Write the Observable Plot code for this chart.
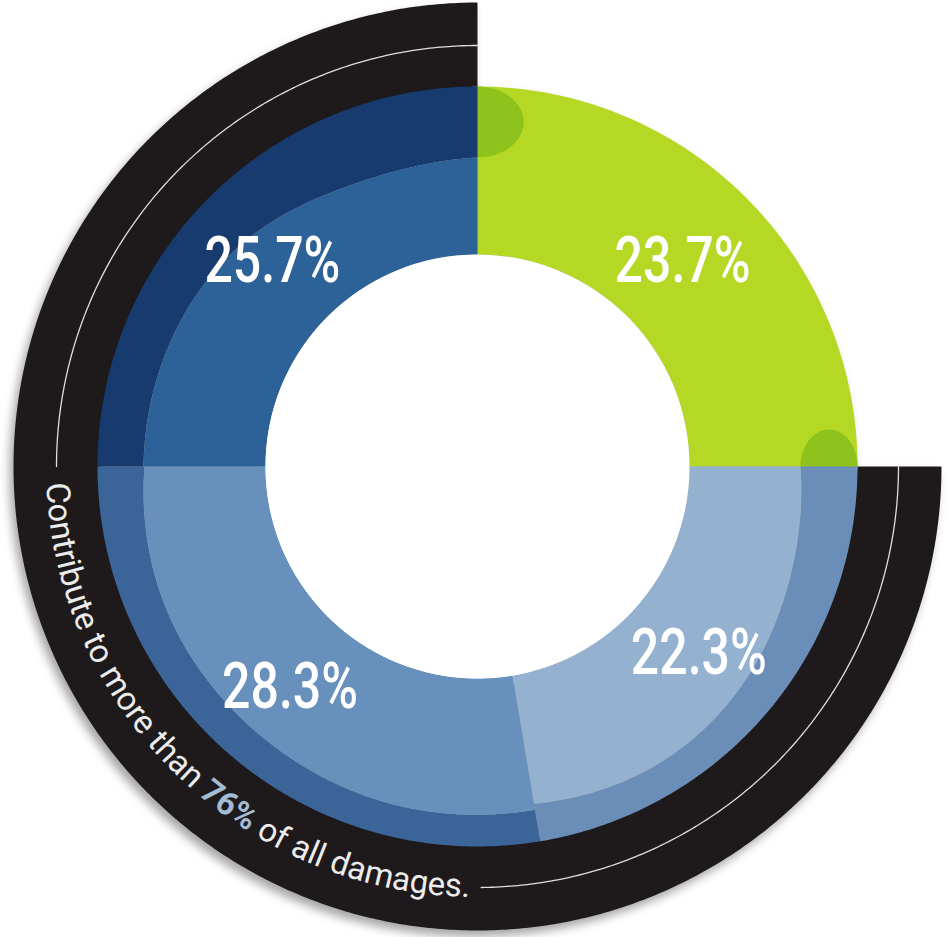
<!DOCTYPE html>
<html>
<head>
<meta charset="utf-8">
<script src="https://cdn.jsdelivr.net/npm/d3@7"></script>
<script src="https://cdn.jsdelivr.net/npm/@observablehq/plot@0.6"></script>
<style>
  html, body { margin: 0; padding: 0; background: #ffffff; }
  #chart { width: 949px; height: 937px; }
</style>
</head>
<body>
<div id="chart"></div>
<script>
// ---- data ----
const shareValues = [23.7, 22.3, 28.3, 25.7];           // clockwise from 12 o'clock
const shareLabels = shareValues.map(v => v.toFixed(1) + "%");
const sweepDeg    = [90, 80.5, 99.5, 90];                 // angular extent of each segment
const inBlackRing = [false, true, true, true];            // segments grouped by the black arc (76%)
const noteParts   = ["Contribute to more than ", "76%", " of all damages."];

// ---- styles ----
const innerFill = ["#b4d824", "#94b1d0", "#6890bd", "#2d6298"];
const bandFill  = ["#b4d824", "#6a8eb8", "#3b6599", "#173b6f"];
const blobFill  = "#8dc31c";
const ringFill  = "#1e1a1b";
// inner edge of the darker outer band, along each segment (start -> end)
const bevel = [null, [323, 331, 345, 350, 342], [348, 349, 345, 344, 333], [334, 332, 326, 303, 309]];

const R0 = 212, R1 = 380, RB0 = 377, RB1 = 464, RLINE = 421, RTEXT = 431;
const deg = Math.PI / 180;
const polar = (a, r) => ({x: r * Math.sin(a * deg), y: -r * Math.cos(a * deg)});

const starts = [], ends = [];
sweepDeg.reduce((acc, s, i) => { starts[i] = acc; ends[i] = acc + s; return acc + s; }, 0);

function arcPts(a0, a1, rf, step = 0.5) {
  const n = Math.max(2, Math.ceil(Math.abs(a1 - a0) / step));
  const pts = [];
  for (let i = 0; i <= n; i++) { const t = i / n; pts.push(polar(a0 + (a1 - a0) * t, rf(t))); }
  return pts;
}
function sector(key, fill, a0, a1, rin, rout) {
  const outer = arcPts(a0, a1, rout);
  const inner = arcPts(a1, a0, t => rin(1 - t));
  return [...outer, ...inner].map(p => ({key, fill, x: p.x, y: p.y}));
}
function blob(key, fill, a, rc, rr, rt) {
  const u = [Math.sin(a * deg), -Math.cos(a * deg)];
  const v = [Math.cos(a * deg), Math.sin(a * deg)];
  const pts = [];
  for (let k = 0; k < 120; k++) {
    const p = k / 120 * 2 * Math.PI;
    pts.push({key, fill,
      x: rc * u[0] + rr * Math.cos(p) * u[0] + rt * Math.sin(p) * v[0],
      y: rc * u[1] + rr * Math.cos(p) * u[1] + rt * Math.sin(p) * v[1]});
  }
  return pts;
}

const shapes = [];
const ringStart = starts[inBlackRing.indexOf(true)];
const ringEnd = ends[inBlackRing.lastIndexOf(true)];
shapes.push(...sector("ring", ringFill, ringStart, ringEnd, () => RB0, () => RB1));
shapes.push(...sector("s0", innerFill[0], starts[0], ends[0], () => R0, () => R1));
{
  const bEnd = d3.interpolateBasis(bevel[3])(1);
  const bStart = d3.interpolateBasis(bevel[1])(0);
  shapes.push(...blob("b0", blobFill, ends[3] % 360, (bEnd + R1) / 2, (R1 - bEnd) / 2, (R1 - bEnd) / 2 * 1.3));
  shapes.push(...blob("b1", blobFill, starts[1], (bStart + R1) / 2, (R1 - bStart) / 2, (R1 - bStart) / 2 * 1.3));
}
for (let i = 1; i < shareValues.length; i++) {
  const bf = d3.interpolateBasis(bevel[i]);
  shapes.push(...sector("band" + i, bandFill[i], starts[i], ends[i], bf, () => R1));
  shapes.push(...sector("in" + i, innerFill[i], starts[i], ends[i], () => R0, bf));
}

const rule = [
  ...arcPts(ringEnd - 90, ringEnd, () => RLINE).map(p => ({...p, key: "r1"})),
  ...arcPts(179.5, ringStart, () => RLINE).map(p => ({...p, key: "r2"}))
];

const labelData = shareLabels.map((t, i) => ({text: t, ...polar((starts[i] + ends[i]) / 2, 290)}));

const plot = Plot.plot({
  width: 949, height: 937, margin: 0,
  x: {domain: [-477, 472], range: [0, 949], axis: null},
  y: {domain: [-466, 471], range: [0, 937], axis: null},
  color: {type: "identity"},
  style: {background: "#ffffff", overflow: "visible"},
  marks: [
    Plot.line(shapes, {x: "x", y: "y", z: "key", fill: "fill", stroke: "none", curve: "linear-closed"}),
    Plot.dot([{x: 0, y: 0}], {x: "x", y: "y", r: R0, fill: "#ffffff", stroke: "none"}),
    Plot.line(rule, {x: "x", y: "y", z: "key", stroke: "#dedede", strokeWidth: 1.3}),
    Plot.text(labelData, {x: "x", y: "y", text: "text", fill: "#ffffff", fontSize: 64,
      fontFamily: "Roboto, 'Noto Sans', sans-serif", fontWeight: 500})
  ]
});

const svg = d3.select(plot);
svg.select('g[aria-label="line"]').style("filter", "drop-shadow(-4px 6px 5px rgba(0,0,0,0.35))");
svg.selectAll('g[aria-label="text"] text').attr("textLength", 136).attr("lengthAdjust", "spacingAndGlyphs");

// curved note along the black arc
const xs = plot.scale("x"), ys = plot.scale("y");
const P = (a, r) => { const p = polar(a, r); return [xs.apply(p.x), ys.apply(p.y)]; };
const a0 = ringEnd - 92.3, a1 = 181;
const [sx, sy] = P(a0, RTEXT), [ex, ey] = P(a1, RTEXT);
const rpx = xs.apply(RTEXT) - xs.apply(0);
svg.append("defs").append("path").attr("id", "notePath")
  .attr("d", `M${sx},${sy}A${rpx},${rpx} 0 0 0 ${ex},${ey}`);
const note = svg.append("text")
  .attr("text-anchor", "start")
  .attr("font-family", "Roboto, 'Noto Sans', sans-serif")
  .attr("font-size", 33).attr("font-weight", 400).attr("fill", "#ececec")
  .style("white-space", "pre");
const tp = note.append("textPath").attr("href", "#notePath").attr("startOffset", 0)
  .attr("textLength", (a0 - a1) * deg * RTEXT).attr("lengthAdjust", "spacingAndGlyphs");
tp.append("tspan").text(noteParts[0]);
tp.append("tspan").attr("font-weight", 700).attr("fill", "#a3bbd3").text(noteParts[1]);
tp.append("tspan").text(noteParts[2]);

document.getElementById("chart").append(plot);
</script>
</body>
</html>
